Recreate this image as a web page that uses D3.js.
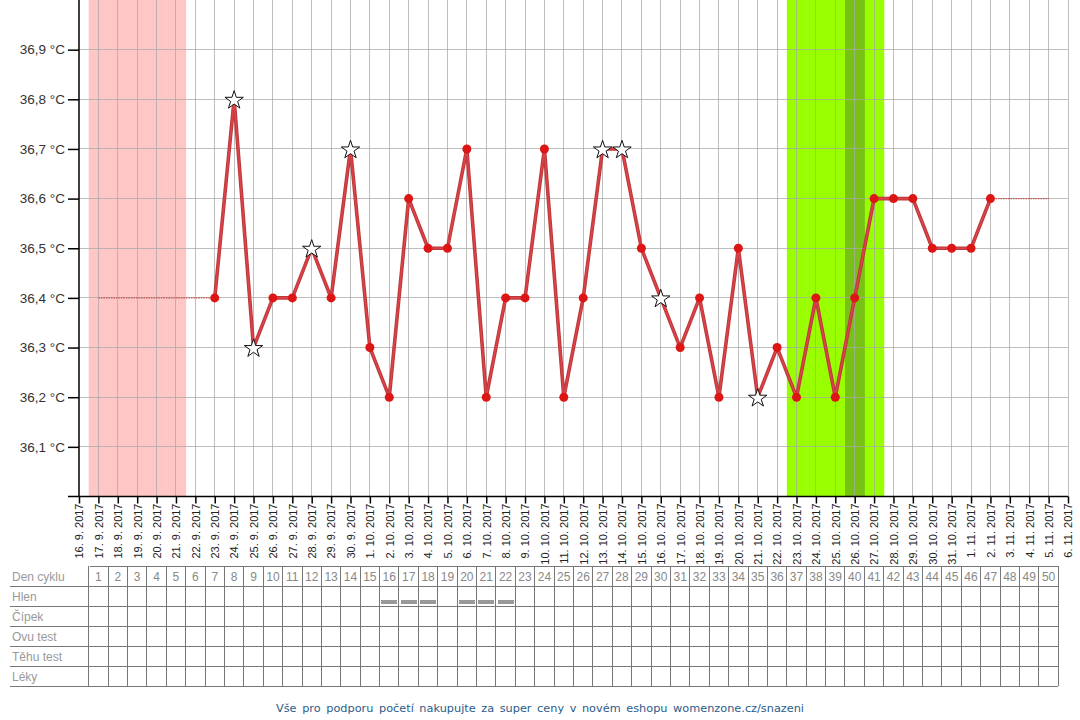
<!DOCTYPE html>
<html><head><meta charset="utf-8">
<script src="https://cdn.jsdelivr.net/npm/d3@7"></script>
<style>body{margin:0;background:#fff;} svg{display:block;}</style>
</head><body>
<script>
// ---- data ----
const cycleStart = new Date(2017, 8, 17);           // cycle day 1 = 17. 9. 2017
const axisStart = new Date(2017, 8, 16);
const axisEnd = new Date(2017, 10, 6);
const yTicks = [36.1, 36.2, 36.3, 36.4, 36.5, 36.6, 36.7, 36.8, 36.9];
const tempDays = [7,8,9,10,11,12,13,14,15,16,17,18,19,20,21,22,23,24,25,26,27,28,29,30,31,32,33,34,35,36,37,38,39,40,41,42,43,44,45,46,47];
const temps = [36.4,36.8,36.3,36.4,36.4,36.5,36.4,36.7,36.3,36.2,36.6,36.5,36.5,36.7,36.2,36.4,36.4,36.7,36.2,36.4,36.7,36.7,36.5,36.4,36.3,36.4,36.2,36.5,36.2,36.3,36.2,36.4,36.2,36.4,36.6,36.6,36.6,36.5,36.5,36.5,36.6];
const starDays = [8,9,12,14,27,28,30,35];
const preLine = {days:[1,7], temp:36.4};
const postLine = {days:[47,50], temp:36.6};
const periodDays = [1,2,3,4,5];
const fertileDays = [37,38,39,40,41];
const ovulationDays = [40];
const cycleNumbers = d3.range(1, 51);
const rowLabels = ["Den cyklu","Hlen","Čípek","Ovu test","Těhu test","Léky"];
const hlenDays = [16,17,18,20,21,22];
const footer = "Vše pro podporu početí nakupujte za super ceny v novém eshopu womenzone.cz/snazeni";

// ---- layout ----
const W = 1080, H = 720;
const svg = d3.select("body").append("svg").attr("width", W).attr("height", H);
const dayDate = d => d3.timeDay.offset(cycleStart, d - 1);
const x = d3.scaleTime().domain([axisStart, axisEnd]).range([79, 1068]);
const y = d3.scaleLinear().domain([36.0, 37.0]).range([496.5, 0]);
const step = x(dayDate(2)) - x(dayDate(1));

// bands
const band = (days, color) => svg.append("g").selectAll("rect").data(days).join("rect")
  .attr("x", d => x(dayDate(d)) - step/2).attr("width", step + 0.5)
  .attr("y", 0).attr("height", y(36.0)).attr("fill", color);
band(periodDays, "#ffc6c6");
band(fertileDays, "#99ff00");
band(ovulationDays, "#77c214");

// grid
const days = d3.timeDay.range(d3.timeDay.offset(axisStart,1), d3.timeDay.offset(axisEnd,1));
svg.append("g").selectAll("line").data(days).join("line")
  .attr("x1", d => x(d)).attr("x2", d => x(d)).attr("y1", 0).attr("y2", y(36.0))
  .attr("stroke", "#a8a8a8").attr("stroke-opacity", 0.75).attr("shape-rendering","crispEdges");
svg.append("g").selectAll("line").data(yTicks).join("line")
  .attr("x1", 79).attr("x2", 1068).attr("y1", d => y(d)).attr("y2", d => y(d))
  .attr("stroke", "#a8a8a8").attr("stroke-opacity", 0.75).attr("shape-rendering","crispEdges");

// axes
const yAxis = d3.axisLeft(y).tickValues(yTicks).tickSize(11).tickPadding(3)
  .tickFormat(d => d3.format(".1f")(d).replace(".", ",") + " °C");
const gy = svg.append("g").attr("transform", "translate(79,0)").call(yAxis);
gy.select(".domain").attr("d", "M0,0V" + y(36.0)).attr("stroke", "#000").attr("stroke-width", 1.5);
gy.selectAll(".tick line").attr("stroke", "#000").attr("stroke-width", 1.5);
gy.selectAll("text").attr("font-family", "Liberation Sans, Arial, sans-serif").attr("font-size", 13.5).attr("fill", "#333");

const xAxis = d3.axisBottom(x).ticks(d3.timeDay.every(1)).tickSize(7)
  .tickFormat(d3.timeFormat("%-d. %-m. %Y"));
const gx = svg.append("g").attr("transform", `translate(0,${y(36.0)})`).call(xAxis);
gx.select(".domain").attr("d", "M68,0H1068").attr("stroke", "#000").attr("stroke-width", 1.5);
gx.selectAll(".tick line").attr("stroke", "#000").attr("stroke-width", 1.5);
gx.selectAll("text").attr("font-family", "Liberation Sans, Arial, sans-serif").attr("font-size", 11).attr("fill", "#222")
  .attr("transform", "rotate(-90)").attr("text-anchor", "end").attr("x", -7).attr("y", 0).attr("dy", "0.35em");

// dotted fill lines
[preLine, postLine].forEach(p => {
  svg.append("line").attr("x1", x(dayDate(p.days[0]))).attr("x2", x(dayDate(p.days[1])))
    .attr("y1", y(p.temp)).attr("y2", y(p.temp))
    .attr("stroke", "#c0504d").attr("stroke-width", 1.2).attr("stroke-dasharray", "1.5,1");
});

// temperature line
const pts = tempDays.map((d, i) => ({day: d, t: temps[i]}));
const line = d3.line().x(d => x(dayDate(d.day))).y(d => y(d.t));
svg.append("path").datum(pts).attr("d", line).attr("fill", "none")
  .attr("stroke", "#b83a3a").attr("stroke-width", 3.6).attr("stroke-linejoin", "round");
svg.append("path").datum(pts).attr("d", line).attr("fill", "none")
  .attr("stroke", "#e0404a").attr("stroke-width", 1.6).attr("stroke-linejoin", "round");

svg.append("g").selectAll("circle").data(pts.filter(p => !starDays.includes(p.day))).join("circle")
  .attr("cx", d => x(dayDate(d.day))).attr("cy", d => y(d.t)).attr("r", 4.5).attr("fill", "#dd1515");

const star = d3.symbol().type(d3.symbolStar).size(105);
svg.append("g").selectAll("path").data(pts.filter(p => starDays.includes(p.day))).join("path")
  .attr("d", star).attr("transform", d => `translate(${x(dayDate(d.day))},${y(d.t)+1})`)
  .attr("fill", "#fff").attr("stroke", "#111").attr("stroke-width", 1);

// table
const tTop = 566, rowH = 20, cellX0 = 89.5;
const tbl = svg.append("g").attr("shape-rendering", "crispEdges");
const cellX = n => x(dayDate(n)) - step/2;
const tblRight = cellX(50) + step;
tbl.append("line").attr("x1", cellX0).attr("x2", tblRight).attr("y1", tTop).attr("y2", tTop).attr("stroke", "#777");
rowLabels.forEach((r, i) => {
  tbl.append("line").attr("x1", 10).attr("x2", tblRight).attr("y1", tTop + rowH*(i+1)).attr("y2", tTop + rowH*(i+1)).attr("stroke", "#777");
  tbl.append("text").attr("x", 12).attr("y", tTop + rowH*i + 14.5).text(r)
    .attr("font-family", "Liberation Sans, Arial, sans-serif").attr("font-size", 12).attr("fill", "#999");
});
tbl.selectAll("line.v").data(d3.range(1, 52)).join("line").attr("class","v")
  .attr("x1", d => cellX(d)).attr("x2", d => cellX(d)).attr("y1", tTop).attr("y2", tTop + rowH*6).attr("stroke", "#777");
tbl.selectAll("text.n").data(cycleNumbers).join("text").attr("class","n")
  .attr("x", d => x(dayDate(d))).attr("y", tTop + 14.5).attr("text-anchor", "middle").text(d => d)
  .attr("font-family", "Liberation Sans, Arial, sans-serif").attr("font-size", 12).attr("fill", "#888");
tbl.selectAll("rect.h").data(hlenDays).join("rect").attr("class","h")
  .attr("x", d => x(dayDate(d)) - 8).attr("width", 16).attr("y", tTop + rowH + 14).attr("height", 4).attr("fill", "#999");

// footer
svg.append("text").attr("x", 540).attr("y", 712).attr("text-anchor", "middle").text(footer)
  .attr("font-family", "DejaVu Sans, Verdana, sans-serif").attr("font-size", 11.3).attr("fill", "#2b5c8a")
  .attr("word-spacing", 2);
</script>
</body></html>
